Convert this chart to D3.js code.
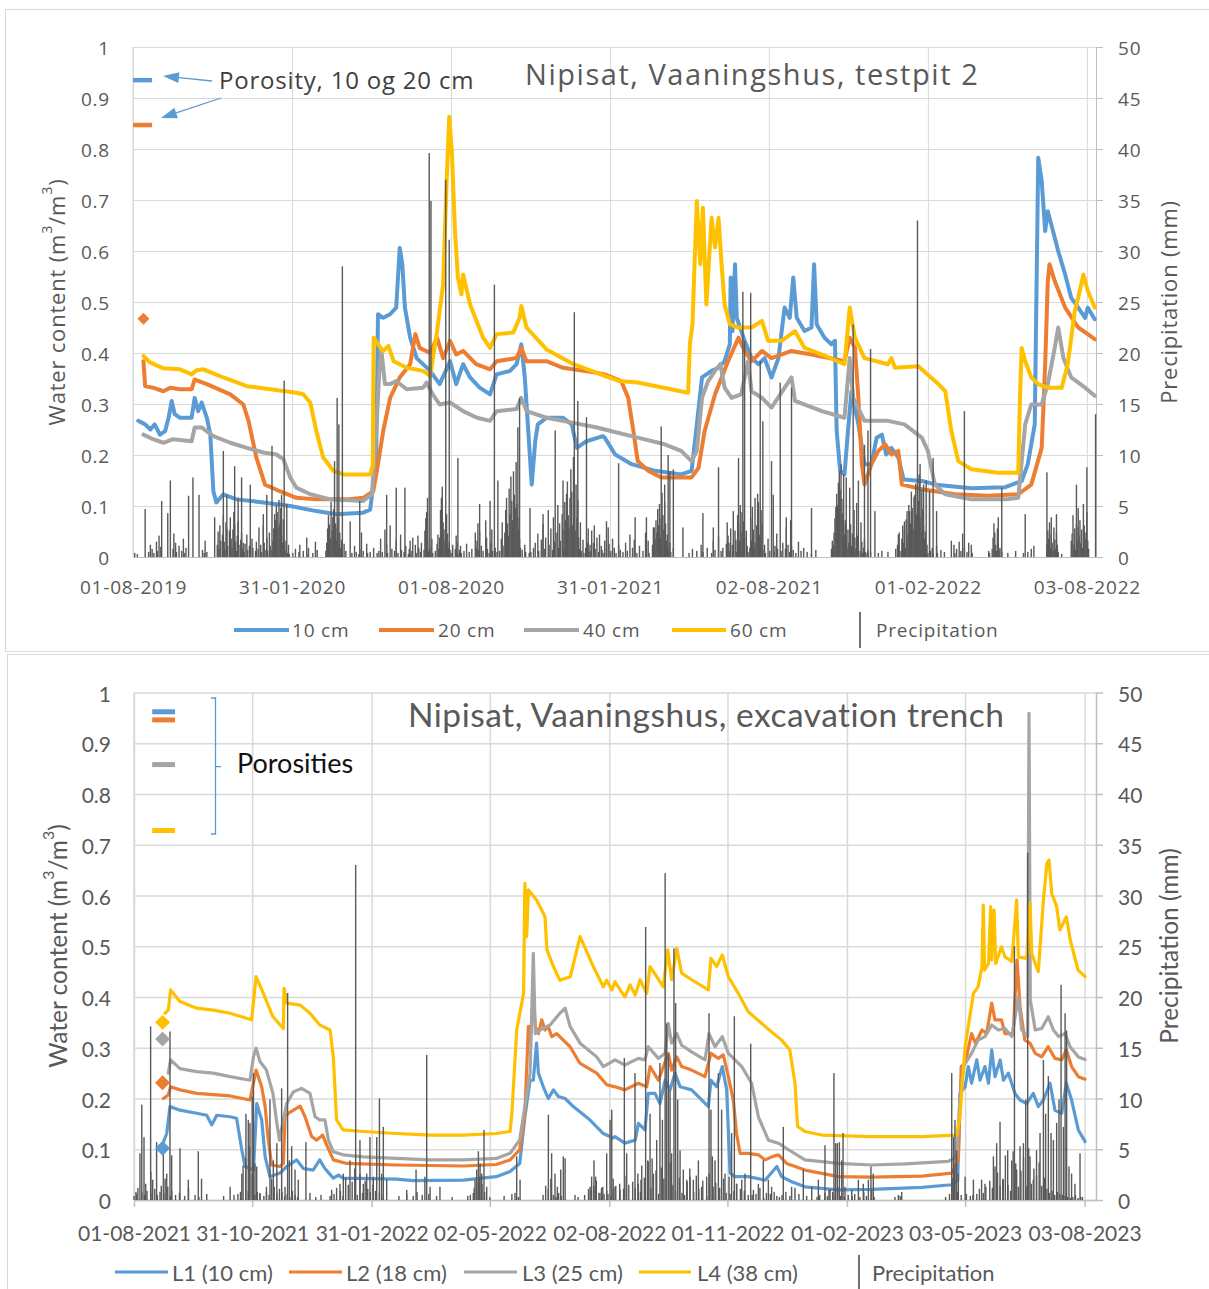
<!DOCTYPE html>
<html>
<head>
<meta charset="utf-8">
<script src="https://cdn.jsdelivr.net/npm/d3@7"></script>
<style>
  body { margin: 0; background: #fff; }
  svg { display: block; }
</style>
</head>
<body>
<svg id="chart" width="1209" height="1289"></svg>
<script>
// ---------- shared ----------
const DAY = 864e5;
const waterTicks = [0, 0.1, 0.2, 0.3, 0.4, 0.5, 0.6, 0.7, 0.8, 0.9, 1];
const rainTicks = [0, 5, 10, 15, 20, 25, 30, 35, 40, 45, 50];
const colors = ["#5b9bd5", "#ed7d31", "#a5a5a5", "#ffc000"];

// ---------- Testpit 2 (days counted from 01-08-2019) ----------
const pitTitle = "Nipisat, Vaaningshus, testpit 2";
const pitDateTicks = ["01-08-2019", "31-01-2020", "01-08-2020", "31-01-2021", "02-08-2021", "01-02-2022", "03-08-2022"];
const pitSpanDays = 1108.5;
const pitLegend = ["10 cm", "20 cm", "40 cm", "60 cm"];
const pitPorosity = [0.935, 0.847];          // 10 cm, 20 cm
const pitPorosityDays = [0, 22];
const pitMarkers = [[12, 0.467, 1]];          // [day, value, colour index]

const pit10 = [[6,0.267],[14,0.26],[20,0.25],[25,0.26],[31,0.24],[37,0.247],[41,0.273],[44.5,0.306],[48,0.28],[54,0.273],[67.5,0.273],[71,0.312],[75,0.286],[79,0.303],[85,0.273],[89,0.24],[92.5,0.129],[96,0.107],[104,0.123],[119,0.113],[150,0.107],[181,0.1],[211,0.09],[234,0.084],[265,0.087],[273,0.093],[276.6,0.142],[280,0.208],[282,0.476],[288,0.469],[296,0.476],[303,0.489],[307,0.606],[310,0.574],[313,0.489],[319,0.43],[326.5,0.39],[342,0.365],[353,0.339],[365,0.384],[372,0.339],[380,0.378],[388,0.352],[399,0.332],[411,0.319],[418.5,0.358],[434,0.365],[441.5,0.378],[447,0.417],[451,0.352],[455,0.247],[459,0.142],[463,0.227],[466,0.26],[476,0.273],[495,0.273],[505,0.26],[511,0.214],[522,0.227],[541,0.237],[543,0.234],[555,0.201],[574,0.182],[601,0.169],[631,0.162],[643,0.169],[649,0.26],[655,0.352],[666,0.365],[674,0.371],[681,0.384],[687,0.417],[688,0.548],[690,0.443],[693,0.574],[695,0.469],[704,0.424],[712,0.39],[720,0.378],[727,0.39],[735,0.352],[743,0.39],[750,0.489],[756,0.469],[760,0.548],[764,0.469],[773,0.443],[781,0.45],[784,0.574],[787,0.456],[796,0.43],[804,0.417],[808,0.424],[810,0.247],[814,0.169],[819,0.162],[823,0.247],[827,0.325],[835,0.26],[842,0.182],[850,0.182],[856,0.234],[862,0.24],[867,0.201],[873,0.214],[881,0.195],[887,0.152],[908,0.149],[927,0.141],[965,0.135],[1004,0.137],[1023,0.149],[1030,0.182],[1038,0.26],[1042,0.783],[1046,0.737],[1050,0.639],[1053,0.678],[1057,0.652],[1065,0.6],[1073,0.554],[1080,0.508],[1088,0.489],[1096,0.469],[1099,0.489],[1107,0.466]];

const pit20 = [[12,0.384],[14,0.335],[23,0.332],[35,0.325],[43,0.332],[54,0.329],[67.5,0.329],[71,0.348],[85,0.339],[112,0.319],[127,0.299],[133,0.267],[142,0.195],[152,0.142],[169,0.129],[188,0.116],[211,0.113],[246,0.113],[265,0.116],[276.6,0.129],[282,0.182],[288,0.247],[296,0.312],[307,0.352],[319,0.378],[325,0.437],[330,0.41],[342,0.4],[350,0.43],[357,0.39],[365,0.424],[372,0.397],[380,0.404],[395,0.378],[411,0.368],[418.5,0.384],[441.5,0.39],[447,0.41],[453,0.384],[476,0.384],[495,0.371],[534,0.361],[543,0.358],[562,0.345],[570,0.312],[576,0.247],[581,0.188],[593,0.169],[608,0.156],[643,0.156],[651,0.175],[658,0.247],[670,0.319],[685,0.384],[697,0.43],[704,0.404],[712,0.384],[724,0.404],[735,0.39],[758,0.404],[781,0.397],[819,0.384],[825,0.43],[831,0.41],[835,0.312],[839,0.182],[842,0.142],[850,0.182],[858,0.208],[866,0.221],[873,0.201],[881,0.208],[885,0.142],[908,0.133],[946,0.123],[984,0.12],[1019,0.123],[1034,0.142],[1046,0.214],[1050,0.378],[1053,0.541],[1055,0.574],[1061,0.541],[1073,0.489],[1088,0.45],[1099,0.437],[1107,0.427]];

const pit40 = [[12,0.24],[23,0.231],[35,0.224],[46,0.231],[67.5,0.227],[71,0.254],[79,0.254],[92.5,0.237],[112,0.224],[131,0.214],[150,0.205],[165,0.201],[173,0.192],[181,0.156],[188,0.136],[204,0.123],[227,0.113],[265,0.11],[275,0.123],[280,0.247],[284,0.378],[286,0.404],[290,0.339],[296,0.339],[303,0.345],[315,0.329],[334,0.332],[338,0.342],[344,0.322],[353,0.299],[365,0.303],[380,0.286],[396,0.273],[411,0.267],[418.5,0.286],[441.5,0.29],[447,0.312],[453,0.286],[476,0.273],[507,0.263],[534,0.254],[543,0.25],[581,0.234],[612,0.221],[631,0.208],[643,0.188],[649,0.208],[655,0.312],[662,0.345],[670,0.365],[676,0.378],[681,0.332],[689,0.312],[700,0.319],[708,0.384],[712,0.325],[724,0.312],[735,0.293],[758,0.352],[762,0.306],[793,0.286],[819,0.273],[825,0.39],[829,0.312],[842,0.267],[869,0.267],[888,0.26],[908,0.234],[915,0.208],[923,0.142],[935,0.123],[965,0.113],[1004,0.113],[1019,0.116],[1027,0.26],[1034,0.299],[1046,0.299],[1053,0.339],[1061,0.41],[1065,0.45],[1071,0.39],[1080,0.352],[1096,0.332],[1107,0.316]];

const pit60 = [[12,0.394],[20,0.381],[35,0.37],[54,0.368],[67.5,0.358],[73,0.366],[81,0.368],[104,0.352],[131,0.335],[158,0.329],[188,0.322],[196,0.319],[204,0.303],[211,0.247],[219,0.195],[230.5,0.169],[242,0.162],[273,0.162],[276,0.18],[277,0.43],[282,0.417],[288,0.404],[294,0.414],[300,0.384],[315,0.371],[334,0.365],[342,0.355],[350,0.443],[357,0.535],[361,0.737],[364,0.863],[367,0.796],[370.6,0.639],[374,0.548],[378,0.515],[380,0.554],[388,0.495],[403,0.43],[411,0.41],[418.5,0.437],[437.7,0.44],[445,0.469],[447,0.492],[453,0.45],[476,0.407],[507,0.378],[534,0.361],[543,0.355],[560,0.345],[581,0.342],[639,0.322],[641,0.417],[644,0.456],[649,0.698],[653,0.574],[656,0.685],[660,0.495],[666,0.665],[670,0.607],[674,0.665],[677.5,0.574],[681,0.495],[687,0.456],[697,0.45],[712,0.45],[724,0.463],[731,0.424],[746.5,0.424],[762,0.443],[773,0.41],[793,0.397],[819,0.378],[825,0.489],[831,0.43],[842,0.39],[869,0.378],[873,0.39],[877,0.371],[904,0.374],[927,0.339],[935,0.325],[942,0.247],[950,0.188],[965,0.172],[996,0.165],[1019,0.165],[1021,0.312],[1023,0.41],[1027,0.384],[1034,0.352],[1042,0.339],[1053,0.332],[1069,0.332],[1076,0.378],[1084,0.482],[1088,0.508],[1094,0.554],[1099,0.522],[1107,0.489]];

// daily precipitation (mm): single days, then runs of consecutive days
const pitRain = [[14,4.7],[33,5.5],[40,4.3],[43,7.5],[64,6],[69,7.8],[76,6.1],[94,3.9],[104,10.4],[108,6.1],[117,8.9],[121,5.8],[125,7.8],[135,7.1],[150,4.2],[154,6.1],[160,10.9],[171,6.1],[174,17.3],[177,5.2],[200,1.9],[232,9.4],[235,15.6],[237,13],[241,28.5],[250,3.5],[261,5.5],[292,6.1],[303,6.8],[313,6.8],[339,5.8],[341,39.6],[343,34.9],[360,37],[364,31.1],[374,9.7],[399,5.2],[411,5.5],[416,26.7],[420,7.5],[443,12.7],[445,15.6],[457,4.8],[472,4.2],[486,12.4],[495,7.5],[508,24],[512,15.3],[522,13.7],[545,3.5],[559,9.2],[578,3.9],[591,3.9],[599,2.9],[608,12.8],[612,7.1],[616,10],[618,8.4],[622,8.6],[633,2.9],[656,4.3],[668,2.9],[674,8.8],[691,4.5],[697,9.7],[702,26],[704,21.2],[711,25.9],[716,5.8],[722,19.2],[725,13.3],[735,9.4],[737,6.1],[745,17.1],[752,3.9],[758,16.6],[781,4.8],[806,1.2],[818,8.1],[821,7.8],[825,6.8],[829,22.8],[835,7.5],[842,11],[846,12.4],[849,20.4],[854,4.5],[881,2.2],[888,3.5],[894,4.5],[900,6.1],[903,33],[906,9.1],[910,7.1],[913,7.5],[917,6.5],[921,9.7],[925,4.5],[942,1.6],[957,14.3],[965,1.2],[996,3.9],[1000,6.8],[1027,4.2],[1052,8.3],[1057,3.9],[1063,4.2],[1086,7.1],[1088,2.9],[1098,8.8],[1108,14]];
const pitRainRuns = [
  [2, [0.4,0,0,0.3]],
  [18, [0.5,0,1.2,0,0.8,0,0.4]],
  [27, [1.5,0.6,0,2.1,0,1]],
  [46, [0.8,2.3,0,1.4,0.5,0,0,1.1]],
  [56, [0.6,0,1.8,0.4,0,0.9]],
  [80, [0.7,0,0.4,1.6,0,0.5]],
  [97, [1.2,2.5,0.8,3.1,1.6,0,2.2,4.1,1.5,0.7,3.4,2.8,1.1,0,2.6,3.9,1.8,0.9,2.7,4.4,3.2,1.5,0.6,2.1,3.5,1.2,0,1.7,2.4,0.8,1.4]],
  [128, [0.5,1.3,0,2.2,0.7,0,1.1,0.4,0,1.8,0.9,0,0,0.6,1.5,0,0.8,2.9,0,1.2,0.5,0,3.1,1.4,0.7,0,1.9,0.6,0,2.4,1.1,0,0.7,1.6,2.8,4.2,3.6,5.1,4.4,2.9,5.6,3.3,4.8,2.1,1.4,3.7,0.9,1.6,0.6,0,0.4,1.2,0.3]],
  [184, [0.4,0,0,0.8,0,0,0,0.5,1.2,0,0,0,0.6,0,0,0,0.3,0,0.9,0,0,0,0,0.4,0,0,1.5,0,0.7]],
  [222, [0.6,1.4,2.8,4.1,3.2,1.8,5.4,2.6,3.9,4.7,2.2,3.3,1.6,2.9,3.8,1.1,2.4,0.9,1.7,0.5,0,1.3,0,0.6]],
  [252, [0.4,0,0,1.1,0,0.5,0,0,0.3,0.8,0,2.4,0,0.6,0,0,0,1.3,0.4,0,0,0.5,0,0,0,0.9,0,0,0,0.4]],
  [283, [0.6,0,1.8,0,0.5,0,0,2.7,0,1.2,0.4,0,0,3.1,0,0.8,0,0,0.6,0,1.6,0,0.4,0,0,2.2,0.7,0,0,0.5,0,1.1,0,0,0.3]],
  [318, [0.8,1.6,0,0.6,1.9,0,0,1.2,0.4,0,2.1,0.9,0,0.5,1.4,0,0,0.7,2.6,3.8,4.4,1.7,0.6,0,0.9,0,1.8,0.4,0,0,0.6,0,1.3,2.2,0.8,1.9,4.6,5.8,6.9,3.4,2.7,1.6,3.1,4.2,2.3,0.9,1.5,0.7,0,0.4,1.2,0,0,0.8,2.1,1.4,0.3]],
  [376, [0.7,1.1,0.4,0,0,0.6,0,0,1.3,0,0,0.5,0,0,0.8,0,0,0,2.4,0.9,1.6,3.3,0.7,2.5,0,1.1,0,0.6,0,0,3.6,1.9,0.8,0,0.4,0,1.4,2.7,0.6,0,0,0.9,0,0.5]],
  [422, [0.6,0,1.8,3.4,1.1,0,2.4,4.6,5.8,3.3,2.1,6.7,4.2,7.9,5.5,3.6,8.4,6.1,4.8,9.3,5.2,3.9,2.6,1.8,0.9,0,0.7,0,0,1.2,0.5,0,0,0,0.4]],
  [458, [0.5,0,0,0.9,0,1.4,0,0,2.3,0.6,0,0,1.7,0,3.2,0,0.8,1.9,0,0,4.6,1.2,0,2.8,0,0.7,3.9,1.5,0,0,2.4,5.1,0.9,3.3,1.6,0,4.2,2.7,0.8,5.4,3.6,6.2,7.4,4.1,2.9,5.8,8.6,6.4,3.1,9.8,4.9,2.6,7.1,3.8,5.6,1.9,0.8,3.4,0.6,0,1.7,0.4,0,0.9,0,1.4,2.8,0.5]],
  [526, [1.2,0.6,2.6,0,1.4,3.1,0.8,0,1.9,0,0.5,2.2,0,1.1,0.7,0,0.4,1.6,0,0.8,0,2.9,1.3,0,0.6,0,1.8,0,0.9,0,0.4,0,0,1.2,0,0.7]],
  [564, [0.5,0,0,1.4,0,0.6,0,0,2.2,0,0,0.9,0,1.7,0,0,0.4,0,0,1.1,0,0,0,0.6,0,0,2.4,0.8,0,1.6,0.4,0,0,0,1.2,0.6,2.9,1.8,3.6,2.4,4.7,3.1,5.2,1.9,3.8,6.3,4.1,2.7,5.4,3.3,1.6,2.2,0.8,0,1.4,0.5,0,0,0.9]],
  [640, [0.4,0,0,0,0.8,0,0,0,0,0.6,0,0,0,0,1.2,0,0.5,0,0,0,0,0.9,0,0,0,0,0.4,0,1.6,0,0.7,0,0,0,2.1,0,0,0.6,0,0.9,0,0,0,1.3,3.4,2.1,1.4,0.6,2.8,0,1.2,0.4,0,2.6,1.7,0.5,4.1,3.2,1.6,5.1,2.4,4.4,0.8,3.5,1.9,0,2.6,1.1,0.5,0,0.9,3.8,1.6,4.9,2.7,0.8,1.4,0,3.1,6.2,5.4,2.2,1.5,4.6,3.3,0.7,0,1.2,0.4,0,0,1.8,0,0.6,0,0,0,0,0.5,1.1,0,2.3,0.8]],
  [746, [0.6,0,1.4,0,0,0.8,2.9,0,1.2,0,0.5,3.6,1.1,0,0.7,0,0,0.4,0,0,1.5,0,0,0.6,0,0,0.9,0,0,0,0.5,0,0,0,0,0.3,0,0,0,0,0.7]],
  [804, [0.8,1.6,0.5,2.4,3.8,4.9,6.2,5.1,7.3,8.4,6.6,9.1,5.7,4.3,3.1,2.2,3.6,1.8,0.9,2.7,1.4,0.6,3.2,1.1,2.3,0.7,4.6,1.9,0.8,5.3,2.1,1.2,0,0.6,3.4,1.5,0.4,0.9,1.8,0.5,0,0.4,0.7,0,0,0.5]],
  [858, [0.4,0,0,0,0.6,0,0,0,0,0,0,0.5,0,0,0,0,0,0,0,0,0.8,0,1.2,0,2.4,0,0.6,1.8,3.1,1.4,2.6,0.9,3.7,4.5,2.2,5.1,1.6,3.3,6.4,4.8,2.7,5.9,3.6,7.2,4.2,6.8,5.5,8.1,3.9,2.4,6.6,4.7,3.1,1.8,2.5,0.8,1.2,0.4,0,0,0.6,0,0.9,0.3,0,0,0,1.1,0.4,0,0,0,0.7,0,0,0,0.5]],
  [944, [0,1.2,0.4,0,0.8,0,0,1.5,0,0.6,0,2.3,0,0.9,0,0,0.5,0,1.4,0,0,0,0.4,0,0,0,0,0,0,0,0,0,0,0,0,0,0,0,0,0,0,0.6,0.4,0,0,0.8,1.9,3.3,2.4,1.2,0.6,2.8,1.6,0.7,0.9,0,0.5,0,0,0,0,0,0,0.4,0,0,0,0,0,0,0,0,0.6,0,0,0,0,0,0,0,0,0.4]],
  [1030, [0.5,0,0,0,0.8,0,0,1.1,0,0,0,0,0,0,0,0,0,0,0,0,0,0,1.2,2.6,1.8,3.4,0.9,2.2,1.4,0.6,2.9,1.7,0.8,2.4,1.2,0.5,0,0,0,0.3,0,0,0,0,0,0,0,0,0,0,1.6,2.3,4.1,1.2,2.8,0.7,3.3,1.5,4.8,2.1,3.6,1.4,2.7,0.9,5.2,3.1,1.8,2.4,4.4,1.6,0.8]]
];

// ---------- Excavation trench (days counted from 01-08-2021) ----------
const trenchTitle = "Nipisat, Vaaningshus, excavation trench";
const trenchDateTicks = ["01-08-2021", "31-10-2021", "31-01-2022", "02-05-2022", "02-08-2022", "01-11-2022", "01-02-2023", "03-05-2023", "03-08-2023"];
const trenchSpanDays = 740.8;
const trenchLegend = ["L1 (10 cm)", "L2 (18 cm)", "L3 (25 cm)", "L4 (38 cm)"];
const trenchPorosity = [0.962, 0.946, 0.858, 0.728];   // L1..L4
const trenchPorosityDays = [14, 31.6];
const trenchMarkers = [[22, 0.102, 0], [22, 0.231, 1], [22, 0.317, 2], [22, 0.35, 3]];

const trench10 = [[21.3,0.105],[25.2,0.131],[27.7,0.184],[35.4,0.177],[48.3,0.171],[56,0.167],[59.8,0.148],[63.7,0.167],[74,0.164],[79,0.161],[83,0.099],[85.5,0.066],[92,0.059],[94.5,0.19],[98.3,0.158],[101,0.085],[104.7,0.046],[112.4,0.053],[117.6,0.066],[125.3,0.079],[130.4,0.062],[138,0.059],[143,0.079],[147,0.062],[153.5,0.043],[157.4,0.049],[161,0.043],[202,0.041],[215,0.038],[253.6,0.039],[279,0.046],[289.6,0.056],[297,0.072],[301,0.164],[305,0.236],[307.5,0.236],[310,0.309],[311.4,0.25],[315.2,0.223],[319,0.2],[323,0.217],[326.8,0.204],[332,0.2],[338.3,0.184],[351,0.158],[361.4,0.131],[369,0.122],[370.4,0.125],[378,0.112],[386,0.118],[388.4,0.151],[393.5,0.138],[396,0.21],[401.2,0.21],[405,0.19],[409,0.236],[412.8,0.217],[416.6,0.25],[420.5,0.223],[429.4,0.217],[442.3,0.184],[444.3,0.236],[448.7,0.223],[453,0.263],[456.4,0.217],[459,0.053],[462.8,0.046],[473,0.046],[486,0.039],[495,0.066],[498.7,0.046],[506.4,0.036],[516.7,0.026],[542.4,0.02],[568,0.021],[606.6,0.025],[629.7,0.03],[634.3,0.039],[636,0.21],[640,0.223],[642.5,0.263],[645,0.23],[649,0.276],[651.5,0.236],[655.3,0.263],[658,0.23],[660.5,0.296],[663,0.243],[667,0.276],[669.5,0.236],[673.3,0.25],[678.4,0.21],[682.3,0.197],[687.4,0.19],[692.5,0.21],[696.4,0.184],[700.3,0.197],[705.4,0.23],[709.2,0.177],[714.4,0.171],[718,0.23],[722,0.197],[727.2,0.138],[732.4,0.115]];

const trench18 = [[22.6,0.2],[26.4,0.207],[28.2,0.223],[35.4,0.217],[48.3,0.21],[74,0.205],[89.3,0.197],[94,0.256],[98.3,0.223],[101,0.184],[103.4,0.118],[106,0.069],[112.4,0.066],[115,0.072],[116.3,0.164],[119,0.171],[128,0.185],[131.7,0.164],[136.8,0.125],[140.7,0.118],[145.3,0.128],[148.4,0.108],[153.5,0.079],[163.8,0.072],[202,0.069],[253.6,0.067],[279,0.07],[289.6,0.079],[297,0.099],[301,0.171],[303.7,0.342],[305,0.309],[307.5,0.401],[309,0.342],[311.4,0.328],[314,0.355],[316.5,0.335],[319,0.342],[321.6,0.322],[325.5,0.328],[330.6,0.315],[335.8,0.302],[343.5,0.269],[356.3,0.25],[364,0.227],[370.4,0.223],[378,0.217],[388.4,0.23],[394.8,0.223],[397.4,0.263],[403.8,0.236],[411.5,0.289],[414,0.256],[418,0.282],[421.7,0.263],[429.4,0.256],[439.7,0.243],[444.3,0.289],[450,0.279],[453.8,0.286],[457.7,0.243],[461.5,0.197],[464,0.131],[466.7,0.092],[473,0.092],[480.8,0.089],[486,0.079],[491,0.085],[496.2,0.089],[502.6,0.072],[516.7,0.059],[542.4,0.046],[568,0.045],[606.6,0.047],[629.7,0.053],[634.8,0.079],[637,0.263],[640,0.269],[645,0.328],[648,0.309],[653,0.335],[656.6,0.328],[660.5,0.388],[663,0.355],[668,0.355],[670.7,0.328],[677,0.328],[680,0.473],[682.3,0.381],[686,0.315],[690,0.309],[694,0.289],[699,0.282],[704,0.302],[709.2,0.279],[714.4,0.276],[718,0.296],[722,0.263],[727.2,0.243],[732.4,0.238]];

const trench25 = [[26.4,0.25],[28.2,0.276],[35.4,0.259],[48.3,0.253],[61,0.25],[74,0.243],[89.3,0.236],[92,0.282],[94,0.299],[97,0.273],[102,0.256],[107,0.21],[110,0.151],[112,0.118],[114.5,0.151],[117.6,0.19],[122.7,0.213],[129,0.22],[135.5,0.21],[139.4,0.164],[143,0.158],[147,0.158],[149.7,0.118],[153.5,0.095],[161,0.089],[176.6,0.085],[202,0.082],[228,0.079],[253.6,0.079],[279,0.082],[289.6,0.092],[297,0.118],[301,0.184],[305,0.25],[306,0.342],[307.5,0.486],[309,0.328],[312.7,0.335],[320.4,0.345],[328,0.368],[332,0.378],[335.8,0.342],[343.5,0.309],[356.3,0.282],[361.4,0.263],[370.4,0.276],[378,0.266],[388.4,0.279],[393.5,0.276],[396,0.302],[403.8,0.279],[409,0.289],[411.5,0.348],[414,0.309],[418,0.328],[421.7,0.305],[429.4,0.292],[439.7,0.276],[442.8,0.328],[447.4,0.302],[453,0.322],[457.7,0.289],[468,0.263],[475.6,0.23],[480.8,0.164],[488.5,0.118],[496.2,0.112],[504,0.099],[516.7,0.079],[542.4,0.072],[568,0.069],[594,0.071],[627,0.076],[633.5,0.085],[636,0.197],[638.7,0.263],[645,0.289],[650,0.315],[655.3,0.322],[660.5,0.345],[665.6,0.335],[670.7,0.338],[676,0.322],[681,0.4],[683.6,0.335],[688.2,0.322],[689.2,0.959],[690.2,0.394],[694,0.335],[699,0.338],[704,0.361],[708,0.335],[712,0.322],[717,0.328],[720.8,0.302],[727.2,0.282],[732.4,0.277]];

const trench38 = [[23.9,0.368],[26.4,0.374],[28.2,0.414],[35.4,0.391],[48.3,0.378],[61,0.374],[74,0.368],[90.6,0.355],[94,0.44],[99.6,0.407],[107,0.361],[115,0.338],[115.5,0.417],[117.6,0.388],[128,0.384],[135.5,0.368],[143,0.345],[151,0.335],[153.5,0.282],[156,0.158],[161,0.138],[176.6,0.135],[202,0.131],[228,0.128],[253.6,0.128],[279,0.131],[289.6,0.135],[291,0.171],[294.7,0.335],[300,0.407],[301,0.624],[302.4,0.519],[303.7,0.611],[310,0.591],[316.5,0.558],[318,0.493],[323,0.46],[328,0.433],[336,0.44],[343.5,0.519],[353.7,0.46],[361.4,0.42],[364,0.433],[368,0.414],[370.4,0.43],[378,0.4],[382,0.424],[386,0.404],[389.7,0.434],[394.8,0.407],[397.4,0.46],[402.5,0.44],[407.6,0.42],[411,0.493],[414,0.434],[418,0.496],[421.7,0.447],[429.4,0.434],[442.3,0.414],[444.3,0.476],[448.7,0.46],[453,0.483],[457.7,0.44],[465.4,0.407],[473,0.371],[486,0.342],[498.7,0.315],[505,0.296],[509,0.23],[511,0.145],[516.7,0.135],[529.6,0.128],[568,0.125],[606.6,0.125],[633.5,0.128],[636,0.164],[640,0.302],[646.4,0.407],[650,0.42],[653,0.46],[654,0.581],[655,0.453],[658,0.466],[659.7,0.578],[660.5,0.473],[662.3,0.571],[663.6,0.466],[668,0.499],[670.7,0.479],[676,0.47],[679.7,0.591],[681,0.479],[687.4,0.476],[690,0.585],[691.3,0.486],[694,0.466],[696.4,0.45],[700.3,0.591],[703,0.663],[704.6,0.67],[706.7,0.604],[710.5,0.578],[713,0.532],[718,0.558],[721,0.512],[727,0.453],[732.4,0.44]];

const trenchRain = [[1.5,0.8],[4.6,4.6],[6,9.4],[7.7,6.2],[12.8,17.1],[14.4,2],[17.4,5.7],[22.6,5.6],[25.2,2.6],[27.7,16.6],[29,4.4],[35.4,5.1],[41.8,2],[49.5,4.8],[52,2.1],[74,1.3],[83,2.6],[86.2,8.5],[88,7.9],[89.3,7.6],[91,10.2],[92,12.5],[93.2,3.6],[94.5,3.3],[97,0.7],[102,1.3],[104.7,9.9],[107.3,3.9],[110,5.6],[113.7,11],[116.3,1.3],[118.3,20.4],[119.6,3.9],[121.4,5.3],[124,3],[126.5,2],[132.4,5.7],[135.5,0.7],[152.2,1],[158.6,1.6],[161.2,2.6],[166.3,3.9],[170.7,33],[174,5.9],[176.6,1.6],[179.2,2.6],[181.7,6.2],[184.3,2.3],[186.9,6.2],[189,10],[190.7,2.6],[192,7.2],[194.6,2],[210,1],[217.2,3],[224,2.3],[225.4,14.3],[228,1.3],[235.6,1.3],[261.3,0.7],[262.6,2],[263.9,3],[265.2,4.8],[266.5,3.6],[267.7,2.6],[269.5,6.9],[271.6,1.3],[293.4,0.7],[294.7,4.3],[297.3,2],[319.1,8.4],[321.6,4.6],[324.2,2.6],[326,1.3],[328.6,3],[330.6,4.3],[332,4.1],[339.6,0.5],[351.2,1.3],[352.4,2.3],[354.2,3.9],[355.5,2.3],[358.8,0.7],[361,1.3],[364,4.6],[366.6,7.9],[367.9,8.9],[369.1,1],[370.4,1.3],[374.3,1],[377.6,14],[379.4,4.6],[385.8,12.5],[388.4,1.6],[390.4,2],[394,26.9],[395.6,3.9],[397.4,8.5],[400,2.6],[402.5,5.9],[405,13.5],[406.9,7.9],[409,32.2],[410.2,17.4],[411.5,14.4],[412.8,10.8],[414,4.6],[415.8,24.8],[417.1,19.4],[418.7,9.9],[420.5,4.9],[423,3],[425.6,2],[428.2,2.3],[430.7,2],[434.6,3.9],[437.1,1.3],[441,2.3],[442.8,18.4],[444.3,8.9],[445.4,4.3],[447.4,3.9],[450,12.5],[452.5,8.9],[455.1,2.6],[458.2,2.3],[460.2,6.6],[462.3,18.1],[464.1,1.6],[468,2],[470.5,2.6],[474.9,15.4],[477,1],[480.8,1.6],[484.6,3.9],[488.5,2],[491,1.3],[500,7.2],[506.4,1.3],[515.4,3],[521.9,1.3],[527,2],[532.1,5.4],[535.2,1],[539,12.5],[540.3,5.6],[541.6,5.6],[543.2,5.7],[545,3.9],[546,6.6],[547.5,1.3],[552.7,1],[557.8,2],[561.6,1.6],[565.5,2],[567.5,3.3],[569.3,2.6],[588.6,0.5],[591.2,0.8],[629.7,12.5],[631,6.2],[632.2,7.9],[633.5,4.9],[634.8,2.6],[640,2.3],[646.4,2],[652.7,2],[655.3,1.6],[661.8,4.3],[664.3,5.6],[666.9,7.7],[669.4,2],[672.8,4.9],[675.9,3.9],[678,25],[679.7,3],[682.3,5.3],[684.9,5.6],[686.7,9.9],[688.2,34.2],[690,4.3],[692.5,2],[695,4.9],[697.7,6.6],[700.3,13.8],[702,8.5],[704.1,12.2],[706.2,6.6],[708,5.9],[710.5,7.6],[712.3,9.9],[713.9,21.2],[715.7,7.2],[717,18.4],[718.2,16.7],[720,3.3],[722,2.6],[724.6,1.6],[728.5,4.6],[730.3,0.3]];
const trenchRainRuns = [
  [0, [0.4,0,0.6,1.2,0,0,0.8,0,0.5,1.6,0.9,0,0,2.8,0.7,0,1.1,0,0.5,0,0.8,1.4,0,0.6,2.1,0,1.3,0,0.4,0.9]],
  [31, [0,0.5,0,0,0.7,0,0,0,0.4,0,0,1.2,0,0,0,0,0.5,0,0,0.3,0,0,0,0,0,0.6,0,0,0,0,0,0,0,0,0,0,0,0,0.4,0,0,0,0,0,0,0,0.5]],
  [80, [0.6,0,0.8,0,3.4,0,4.1,0,0.9,5.3,0,2.6,0,0.5,0,0.8,0,0.6,0,0,0.4,0,0.8,0,0.5,0,2.1,0,1.3,0,0.7,0,1.1,0,0.8,0,0.4,0,0.6,0,0.3,0,0.9,0,0.5,0,0.3]],
  [140, [0.3,0,0,0,0.5,0,0,0,0,0,0,0.4,0,0,0.6,0,1.2,0,0,0.9,0,0.4,0,2.2,0,1.5,0,0,1.8,0,3.1,0,0.5,0,2.6,0,0.7,0,1.9,0,1.1,0,0.8,0,1.5,0,0.9,0,0,0.7,0,0,0.5]],
  [200, [0,0,0,0,0.4,0,0,0,0,0,0.6,0,0,0,0,0.4,0,0,0.8,0,0,0,0.5,0,0,0,0,0.6,0,0,0,0,0,0.4,0,0,0,0,0,0,0,0,0,0,0,0.3,0,0,0,0,0,0,0,0,0,0,0,0.4,0,0.5,0,0,1.2,0,1.8,0,2.3,0,1.6,0,0.8,0,0,0,0.3]],
  [285, [0.4,0,0,0,0,0,0.6,0,0,0,0,0.3,0,0,0,0,0,0,0,0,0,0,0,0,0,0,0,0,0,0,0.5,0,1.4,0,1.1,0,2.1,0,0.5,0,0.3,0,0.7,0,0.4,0,0,0,0,0,0,0,0,0,0,0,0,0.3,0,0,0,0,0.5,0,0,1.1,0,0.9,0,1.4,0,1.9,0,0.7,0,1.2,0,0.6,0,0.9]],
  [365, [0.6,0,0.4,0,2.1,0,1.4,0,0,1.6,0,0,1.1,0,2.4,0,1.5,0,0,1.8,0,1.2,0,2.6,0,0.8,3.4,0,2.2,0,0,3.8,0,1.2,4.1,0,0,2.9,0,0.6,0,3.2,0,2.1,0,4.6,0,0,3.7,0,1.5,0,0.9,0,0,2.2,0,0.7,0,0.5,0,1.8,0,3.1,0,0,0.8,0,2.4,0,1.1,0,0,1.9,0,0,0.4,0,2.6,0,0,1.3,0,1.7,0,0,1.2,0,0,2.1,0,0.7,0,0,0.6,0,0,0.9,0,1.6,0,0,1.1,0,0,0.9,0,0,0.5,0,0,0.5,0,0,0.6,0,0,1.2,0,0,0.2,0,0.7,0,0,0.6,0,0,0.8,0,0.4]],
  [497, [0.3,0,0.5,0,0,0.8,0,0,0.4,0,0,0,1.2,0,0,0.6,0,0,0,0,0,0.4,0,0,0,0,0,0,0,0.3,0,0.5,0,0,0,0.7,0,0.4,0,1.1,0,0.8,0,0.5,0,1.3,0,0.4,0,0,0.3,0,0,0.5,0,0,0.4,0,0.6,0,0,0,0.3,0,0,0.8,0,0.4,0,0,0,0.9,0,0.3,0,0,0,0,0,0,0,0,0,0,0,0,0,0,0,0.3,0,0,0,0.4]],
  [620, [0,0,0,0,0,0.3,0,0,0.6,0,2.2,0,3.1,0,0.8,0,0,0.5,0,0,0,0.6,0,0,0.4,0,0.5,0,0,0.6,0,1.1,0,0,0.7,0,1.3,0,0,1.9,0,1.2,0,3.3,0,2.7,0,1.4,0,2.1,0,4.4,0,1.5,0,0.9,0,4.8,0,3.6,0,1.3,0,2.9,0,4.2,0,1.4,0,5.1,0,1.6,0,3.1,0,2.4,0,3.7,0,1.4,0,2.2,0,1.1,0,0.7,0,0.9,0,0.5,0,0.8,0,0.6,0,0.5,0,0.4,0,0.3,0,0.2,0,0.3,0,0.5,0,0.2,0,0.3]]
];

// ---------- drawing ----------
const svg = d3.select("#chart");
const parseDay = d3.utcParse("%d-%m-%Y");

svg.append("rect").attr("width", 1209).attr("height", 1289).attr("fill", "#fff");
svg.append("rect").attr("x", 5.5).attr("y", 9.5).attr("width", 1215).attr("height", 642)
  .attr("fill", "none").attr("stroke", "#d9d9d9");
svg.append("rect").attr("x", 7.5).attr("y", 654.5).attr("width", 1215).attr("height", 650)
  .attr("fill", "none").attr("stroke", "#d9d9d9");

function expandRain(points, runs) {
  const out = points.map(d => d.slice());
  runs.forEach(([start, vals]) => vals.forEach((v, i) => { if (v > 0) out.push([start + i, v]); }));
  return out;
}

function waterLabel(sel, size) {
  sel.append("tspan").text("Water content (m");
  sel.append("tspan").text("3").attr("font-size", size * 0.65).attr("baseline-shift", "super");
  sel.append("tspan").text("/m");
  sel.append("tspan").text("3").attr("font-size", size * 0.65).attr("baseline-shift", "super");
  sel.append("tspan").text(")");
}

function drawPanel(p) {
  const g = svg.append("g");
  const start = parseDay(p.ticks[0]);
  const at = d => new Date(+start + d * DAY);
  const x = d3.scaleUtc().domain([start, at(p.span)]).range([p.left, p.right]);
  const y = d3.scaleLinear().domain([0, 1]).range([p.bottom, p.top]);
  const yR = d3.scaleLinear().domain([0, 50]).range([p.bottom, p.top]);
  const w = p.right - p.left, h = p.bottom - p.top;
  const tickDates = p.ticks.map(parseDay);
  const txt = s => s.attr("font-family", p.font).attr("fill", "#595959");

  // grid
  g.append("g").attr("transform", `translate(${p.left},0)`)
    .call(d3.axisLeft(y).tickValues(waterTicks).tickSize(-w).tickFormat(""))
    .call(a => a.select(".domain").remove())
    .call(a => a.selectAll("line").attr("stroke", "#d9d9d9").attr("stroke-width", p.gridW));
  g.append("g").attr("transform", `translate(0,${p.bottom})`)
    .call(d3.axisBottom(x).tickValues(tickDates).tickSize(-h).tickFormat(""))
    .call(a => a.select(".domain").remove())
    .call(a => a.selectAll("line").attr("stroke", "#d9d9d9").attr("stroke-width", p.gridW));
  g.append("line").attr("x1", p.left).attr("x2", p.left).attr("y1", p.top).attr("y2", p.bottom)
    .attr("stroke", "#d9d9d9").attr("stroke-width", p.gridW);

  // left axis labels
  g.append("g").attr("transform", `translate(${p.left},0)`)
    .call(d3.axisLeft(y).tickValues(waterTicks).tickSize(0).tickPadding(23)
      .tickFormat(v => (v === 0 || v === 1) ? String(v) : v.toFixed(1)))
    .call(a => a.select(".domain").remove())
    .call(a => a.selectAll("text").call(txt).attr("font-size", p.tickSize)
      .attr("letter-spacing", p.tracking).attr("dy", null).attr("dominant-baseline", "central"));

  // right axis
  g.append("g").attr("transform", `translate(${p.right},0)`)
    .call(d3.axisRight(yR).tickValues(rainTicks).tickSize(7).tickSizeOuter(0).tickPadding(15))
    .call(a => a.select(".domain").attr("stroke", "#bfbfbf").attr("stroke-width", p.gridW))
    .call(a => a.selectAll("line").attr("stroke", "#bfbfbf").attr("stroke-width", p.gridW))
    .call(a => a.selectAll("text").call(txt).attr("font-size", p.tickSize)
      .attr("letter-spacing", p.tracking).attr("dy", null).attr("dominant-baseline", "central"));

  // date axis
  g.append("g").attr("transform", `translate(0,${p.bottom})`)
    .call(d3.axisBottom(x).tickValues(tickDates).tickSize(p.dateTick).tickSizeOuter(0)
      .tickFormat((d, i) => p.ticks[i]))
    .call(a => a.select(".domain").attr("stroke", "#bfbfbf").attr("stroke-width", p.gridW))
    .call(a => a.selectAll("line").attr("stroke", "#bfbfbf").attr("stroke-width", p.gridW))
    .call(a => a.selectAll("text").call(txt).attr("font-size", p.tickSize)
      .attr("letter-spacing", p.tracking).attr("y", p.dateLabelY).attr("dy", null)
      .attr("dominant-baseline", "central"));

  // water content lines
  const line = d3.line().x(d => x(at(d[0]))).y(d => y(d[1]));
  p.series.forEach((s, i) => {
    g.append("path").datum(s).attr("d", line).attr("fill", "none")
      .attr("stroke", colors[i]).attr("stroke-width", p.lineW)
      .attr("stroke-linejoin", "round").attr("stroke-linecap", "round");
  });

  // precipitation bars
  g.append("g").selectAll("rect").data(p.rain).join("rect")
    .attr("x", d => x(at(d[0])) - p.barW / 2).attr("width", p.barW)
    .attr("y", d => yR(d[1])).attr("height", d => yR(0) - yR(d[1]))
    .attr("fill", "#595959");

  // porosity levels
  p.porosity.forEach((v, i) => {
    g.append("line").attr("x1", x(at(p.porosityDays[0]))).attr("x2", x(at(p.porosityDays[1])))
      .attr("y1", y(v)).attr("y2", y(v)).attr("stroke", colors[i]).attr("stroke-width", p.dashW);
  });

  // first-reading markers
  p.markers.forEach(([d, v, c]) => {
    g.append("path").attr("d", d3.symbol(d3.symbolSquare, p.markerSize)())
      .attr("transform", `translate(${x(at(d))},${y(v)}) rotate(45)`)
      .attr("fill", colors[c]);
  });

  // title
  g.append("text").attr("x", p.titleX).attr("y", p.titleY).text(p.title).call(txt)
    .attr("font-size", p.titleSize).attr("letter-spacing", p.titleTracking);

  // axis titles
  g.append("text").attr("transform", `translate(${p.yTitleX},${p.yTitleY}) rotate(-90)`)
    .attr("text-anchor", "middle").attr("dominant-baseline", "central").call(txt)
    .attr("font-size", p.axisTitleSize).attr("letter-spacing", p.tracking)
    .call(s => waterLabel(s, p.axisTitleSize));
  g.append("text").attr("transform", `translate(${p.rTitleX},${p.yTitleY}) rotate(-90)`)
    .attr("text-anchor", "middle").attr("dominant-baseline", "central").call(txt)
    .attr("font-size", p.axisTitleSize).attr("letter-spacing", p.tracking)
    .text("Precipitation (mm)");

  // legend
  const lg = g.append("g");
  p.legend.forEach((name, i) => {
    const [x1, x2, tx] = p.legendPos[i];
    lg.append("line").attr("x1", x1).attr("x2", x2).attr("y1", p.legendY).attr("y2", p.legendY)
      .attr("stroke", colors[i]).attr("stroke-width", p.lineW);
    lg.append("text").attr("x", tx).attr("y", p.legendY).attr("dominant-baseline", "central")
      .text(name).call(txt).attr("font-size", p.legendSize).attr("letter-spacing", p.tracking);
  });
  const [px, ptx] = p.precipPos;
  lg.append("line").attr("x1", px).attr("x2", px)
    .attr("y1", p.legendY - p.precipHalf).attr("y2", p.legendY + p.precipHalf)
    .attr("stroke", "#404040").attr("stroke-width", 1.5);
  lg.append("text").attr("x", ptx).attr("y", p.legendY).attr("dominant-baseline", "central")
    .text("Precipitation").call(txt).attr("font-size", p.legendSize).attr("letter-spacing", p.tracking);

  return { g, x, y, at };
}

function arrow(g, x1, y1, x2, y2, color) {
  const dx = x2 - x1, dy = y2 - y1, len = Math.hypot(dx, dy);
  const ux = dx / len, uy = dy / len, hl = 16, hw = 5.5;
  const bx = x2 - ux * hl, by = y2 - uy * hl;
  g.append("line").attr("x1", x1).attr("y1", y1).attr("x2", bx).attr("y2", by)
    .attr("stroke", color).attr("stroke-width", 1.3);
  g.append("path").attr("d", `M${x2},${y2}L${bx - uy * hw},${by + ux * hw}L${bx + uy * hw},${by - ux * hw}Z`)
    .attr("fill", color);
}

// ---- panel 1: test pit ----
const pit = drawPanel({
  ticks: pitDateTicks, span: pitSpanDays,
  left: 133, right: 1096, top: 47, bottom: 557,
  font: "'Open Sans', sans-serif", tickSize: 19, tracking: 0.8,
  dateTick: 0, dateLabelY: 30, gridW: 1,
  series: [pit10, pit20, pit40, pit60], lineW: 4,
  rain: expandRain(pitRain, pitRainRuns), barW: 1.4,
  porosity: pitPorosity, porosityDays: pitPorosityDays, dashW: 4.5,
  markers: pitMarkers, markerSize: 72,
  title: pitTitle, titleX: 525, titleY: 85, titleSize: 29, titleTracking: 1.55,
  yTitleX: 56, yTitleY: 302, rTitleX: 1168, axisTitleSize: 22,
  legend: pitLegend, legendY: 630, legendSize: 19,
  legendPos: [[234, 289, 292], [379, 434, 438], [524, 579, 583], [672, 726, 730]],
  precipPos: [860, 876], precipHalf: 18
});
pit.g.append("text").attr("x", 219).attr("y", 89).text("Porosity, 10 og 20 cm")
  .attr("font-family", "'Open Sans', sans-serif").attr("font-size", 24)
  .attr("letter-spacing", 0.8).attr("fill", "#404040");
arrow(pit.g, 212, 81, 163, 76, "#5b9bd5");
arrow(pit.g, 221, 98, 161, 118, "#5b9bd5");

// ---- panel 2: excavation trench ----
const trench = drawPanel({
  ticks: trenchDateTicks, span: trenchSpanDays,
  left: 134, right: 1096, top: 692.5, bottom: 1200,
  font: "Lato, sans-serif", tickSize: 21, tracking: 0,
  dateTick: 7, dateLabelY: 32, gridW: 1.5,
  series: [trench10, trench18, trench25, trench38], lineW: 3.2,
  rain: expandRain(trenchRain, trenchRainRuns), barW: 1.4,
  porosity: trenchPorosity, porosityDays: trenchPorosityDays, dashW: 5,
  markers: trenchMarkers, markerSize: 112,
  title: trenchTitle, titleX: 408, titleY: 727, titleSize: 33.5, titleTracking: 0.5,
  yTitleX: 57, yTitleY: 946, rTitleX: 1168, axisTitleSize: 24.5,
  legend: trenchLegend, legendY: 1272, legendSize: 22,
  legendPos: [[115, 168, 172], [289, 342, 346], [464, 517, 522], [639, 691, 697]],
  precipPos: [859, 872], precipHalf: 17
});
trench.g.append("path").attr("d", "M211,698H215.5V834H211M215.5,766.7H221")
  .attr("fill", "none").attr("stroke", "#5b9bd5").attr("stroke-width", 1.3);
trench.g.append("text").attr("x", 237).attr("y", 773).text("Porosities")
  .attr("font-family", "Lato, sans-serif").attr("font-size", 27).attr("fill", "#111");
</script>
</body>
</html>
